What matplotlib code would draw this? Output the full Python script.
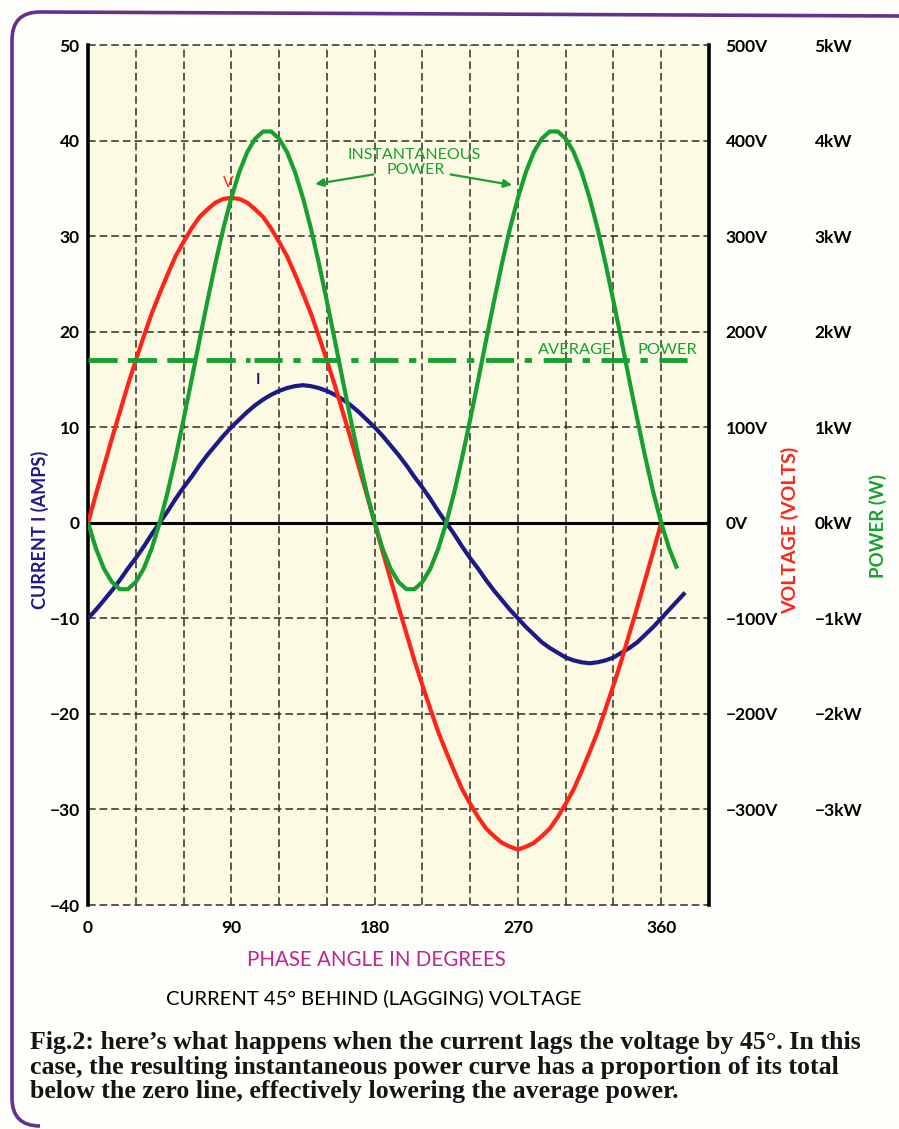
import matplotlib.pyplot as plt
from matplotlib.path import Path
from matplotlib.patches import PathPatch

# Valores (ángulo de fase en grados)
ang_v = list(range(0, 365, 5))
ang_i = list(range(0, 380, 5))
ang_p = list(range(0, 375, 5))

# Tensión en voltios
voltaje = [0, 30, 59, 88, 116, 144, 170, 195, 219, 240, 260, 279, 294, 308, 320, 328, 335, 339,
           340, 339, 335, 328, 320, 308, 294, 279, 260, 240, 219, 195, 170, 144, 116, 88, 59, 30, 0,
           -30, -59, -88, -116, -144, -170, -195, -219, -240, -260, -279, -294, -308, -320, -328, -335, -339,
           -342, -339, -335, -328, -320, -308, -294, -279, -260, -240, -219, -195, -170, -144, -116, -88, -59, -30, 0]

# Corriente en amperios
corriente = [-10.0, -9.1, -8.1, -7.1, -6.0, -4.8, -3.7, -2.5, -1.2, 0.0, 1.2, 2.5, 3.7, 4.8, 6.0, 7.1, 8.1, 9.1,
             10.0, 10.8, 11.6, 12.3, 12.9, 13.4, 13.8, 14.1, 14.3, 14.4, 14.3, 14.1, 13.8, 13.4, 12.9, 12.3, 11.6, 10.8,
             10.0, 9.1, 8.1, 7.1, 6.0, 4.8, 3.7, 2.5, 1.2, 0.0, -1.2, -2.5, -3.7, -4.8, -6.0, -7.1, -8.1, -9.1,
             -10.0, -10.9, -11.7, -12.5, -13.1, -13.6, -14.1, -14.4, -14.6, -14.7, -14.6, -14.4, -14.1, -13.6, -13.1, -12.5, -11.7, -10.9,
             -10.0, -9.1, -8.2, -7.3]

# Potencia instantánea en vatios
potencia = [0, -270, -480, -620, -695, -695, -620, -480, -270, 0,
            320, 685, 1080, 1490, 1910, 2320, 2715, 3080, 3400, 3670, 3880, 4020, 4095, 4095, 4020, 3880, 3670,
            3400, 3080, 2715, 2320, 1910, 1490, 1080, 685, 320, 0,
            -270, -480, -620, -695, -695, -620, -480, -270, 0,
            320, 685, 1080, 1490, 1910, 2320, 2715, 3080, 3400, 3670, 3880, 4020, 4095, 4095, 4020, 3880, 3670,
            3400, 3080, 2715, 2320, 1910, 1490, 1080, 685, 320, 0,
            -270, -480]

potencia_media = 1700

ticks_x = [0, 90, 180, 270, 360]
ticks_i = [-40, -30, -20, -10, 0, 10, 20, 30, 40, 50]
ticks_v = [-300, -200, -100, 0, 100, 200, 300, 400, 500]
ticks_p = [-3000, -2000, -1000, 0, 1000, 2000, 3000, 4000, 5000]

W, H = 899, 1129
rojo = '#ff2418'
verde = '#17a030'
azul = '#1c1a86'
magenta = '#c4238c'
fuente = ['Lato', 'DejaVu Sans']

def fx(px):
    return px / W

def fy(py):
    return 1 - py / H

fig = plt.figure(figsize=(W / 100, H / 100), dpi=100)
fig.patch.set_facecolor('#fefefb')

ax = fig.add_axes([fx(88), fy(905), fx(709) - fx(88), fy(45) - fy(905)])
ax.set_facecolor('#fcfae2')
ax.set_xlim(0, 390)
ax.set_ylim(-40, 50)

# Cuadrícula punteada
for gx in range(30, 390, 30):
    ax.axvline(gx, color='#2e2e22', lw=1.1, ls=(0, (5, 2.6)), zorder=1)
for gy in ticks_i:
    ax.axhline(gy, color='#2e2e22', lw=1.1, ls=(0, (5, 2.6)), zorder=1, clip_on=False)
ax.axhline(0, color='black', lw=2.2, zorder=2)

for s in ['top', 'bottom']:
    ax.spines[s].set_visible(False)
for s in ['left', 'right']:
    ax.spines[s].set_linewidth(2.6)
    ax.spines[s].set_color('black')

ax.set_xticks(ticks_x)
ax.set_xticklabels([str(t) for t in ticks_x])
ax.set_yticks(ticks_i)
ax.set_yticklabels([str(t).replace('-', '\u2212') for t in ticks_i])
ax.tick_params(axis='y', length=0, labelsize=12.5, pad=6)
ax.tick_params(axis='x', length=0, labelsize=12.5, pad=11)
for lab in ax.get_xticklabels() + ax.get_yticklabels():
    lab.set_family(fuente)
    lab.set_fontweight('bold')

axv = ax.twinx()
axv.set_ylim(-400, 500)
axv.set_yticks(ticks_v)
axv.set_yticklabels([(str(t) + 'V').replace('-', '\u2212') for t in ticks_v])
axv.tick_params(length=0, labelsize=12.5, pad=12)

axp = ax.twinx()
axp.set_ylim(-4000, 5000)
axp.set_yticks(ticks_p)
axp.set_yticklabels([(str(t // 1000) + 'kW').replace('-', '\u2212') for t in ticks_p])
axp.tick_params(length=0, labelsize=12.5, pad=76)
for a in [axv, axp]:
    for s in a.spines.values():
        s.set_visible(False)
    for lab in a.get_yticklabels():
        lab.set_family(fuente)
        lab.set_fontweight('bold')

# Curvas
ax.plot(ang_i, corriente, color=azul, lw=3, solid_capstyle='butt', solid_joinstyle='round', zorder=3)
axv.plot(ang_v, voltaje, color=rojo, lw=3, solid_capstyle='butt', solid_joinstyle='round', zorder=3)
axp.plot(ang_p, potencia, color=verde, lw=3, solid_capstyle='butt', solid_joinstyle='round', zorder=4)

# Línea de potencia media
axp.hlines(potencia_media, 0, 102, color=verde, lw=3.5, linestyles=[(0, (6, 2.1))])
axp.hlines(potencia_media, 104, 380, color=verde, lw=3.5, linestyles=[(0, (5.8, 2.2, 1.5, 2.4))])

# Anotaciones
ax.text(88, 35.6, 'V', color=rojo, fontsize=11, family=fuente, ha='center', va='center')
ax.text(107, 14.9, 'I', color=azul, fontsize=11, family=fuente, fontweight='bold', ha='center', va='center')
ax.text(205, 38.5, 'INSTANTANEOUS', color=verde, fontsize=11.5, family=fuente, ha='center', va='center')
ax.text(206, 36.9, 'POWER', color=verde, fontsize=11.5, family=fuente, ha='center', va='center')
ax.annotate('', xy=(141, 35.4), xytext=(181, 36.5),
            arrowprops=dict(arrowstyle='-|>', color=verde, lw=1.6, mutation_scale=12))
ax.annotate('', xy=(268, 35.3), xytext=(226, 36.5),
            arrowprops=dict(arrowstyle='-|>', color=verde, lw=1.6, mutation_scale=12))
ax.text(306, 18.1, 'AVERAGE', color=verde, fontsize=11.8, family=fuente, ha='center', va='center')
ax.text(364, 18.1, 'POWER', color=verde, fontsize=11.8, family=fuente, ha='center', va='center')

# Títulos de ejes
fig.text(fx(40), fy(530), 'CURRENT I (AMPS)', rotation=90, color=azul, fontsize=13,
         family=fuente, fontweight='bold', ha='center', va='center')
fig.text(fx(790), fy(530), 'VOLTAGE (VOLTS)', rotation=90, color=rojo, fontsize=14,
         family=fuente, fontweight='bold', ha='center', va='center')
fig.text(fx(878), fy(526), 'POWER (W)', rotation=90, color=verde, fontsize=13.5,
         family=fuente, fontweight='bold', ha='center', va='center')
fig.text(fx(376), fy(960), 'PHASE ANGLE IN DEGREES', color=magenta, fontsize=14.8,
         family=fuente, ha='center', va='center')
fig.text(fx(374), fy(998), 'CURRENT 45\u00b0 BEHIND (LAGGING) VOLTAGE', color='black', fontsize=14.6,
         family=fuente, ha='center', va='center')

# Pie de figura
pie = ("Fig.2: here\u2019s what happens when the current lags the voltage by 45\u00b0. In this\n"
       "case, the resulting instantaneous power curve has a proportion of its total\n"
       "below the zero line, effectively lowering the average power.")
fig.text(fx(30), fy(1031), pie, color='#151515', fontsize=18.6, family='Liberation Serif',
         fontweight='bold', ha='left', va='top', linespacing=1.09)

# Marco morado
verts = [(fx(40), fy(1126)), (fx(12), fy(1126)), (fx(12), fy(1098)),
         (fx(12), fy(40)), (fx(12), fy(12)), (fx(40), fy(12)), (fx(899), fy(16))]
codes = [Path.MOVETO, Path.CURVE3, Path.CURVE3, Path.LINETO, Path.CURVE3, Path.CURVE3, Path.LINETO]
fig.add_artist(PathPatch(Path(verts, codes), transform=fig.transFigure, fill=False,
                         edgecolor='#67308a', lw=2.6))

fig.savefig('out.png', dpi=100, facecolor=fig.get_facecolor())
